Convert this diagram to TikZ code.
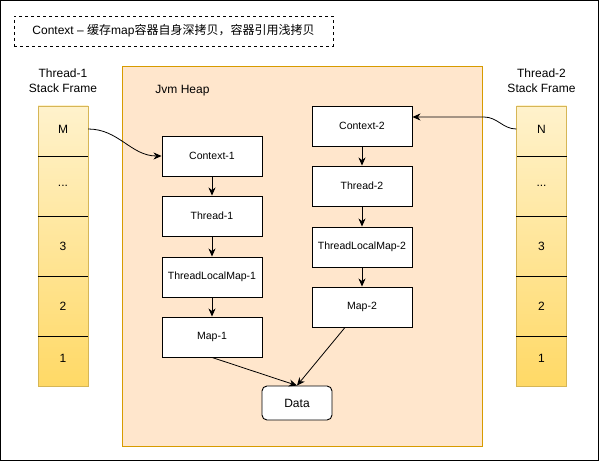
\documentclass[tikz,border=0pt]{standalone}
\usepackage{fontspec}
\setmainfont{Liberation Sans}
\newfontfamily\cjk{Noto Sans CJK SC}
\usetikzlibrary{arrows.meta}
\definecolor{stacktop}{HTML}{FFF2CC}
\definecolor{stackbot}{HTML}{FFD966}
\definecolor{stackline}{HTML}{D6B656}
\definecolor{heapfill}{HTML}{FFE6CC}
\definecolor{heapline}{HTML}{D79B00}
\tikzset{
  objbox/.style={draw,line width=0.9pt,fill=white,minimum width=100pt,minimum height=40pt,inner sep=0pt,font=\fontsize{10.5}{12}\selectfont},
  cell/.style={minimum width=50pt,inner sep=0pt,font=\fontsize{12}{14}\selectfont},
  lbl/.style={align=center,font=\fontsize{12}{15}\selectfont},
  ref/.style={line width=0.8pt,-{Stealth[length=8pt,width=7pt,inset=2.5pt]}}
}
\begin{document}
\begin{tikzpicture}[x=1pt,y=-1pt]
    \useasboundingbox (0,0) rectangle (600,462);
    \draw[line width=1pt] (0.5,0.5) rectangle (598.5,460.5);
    \node[draw,dashed,line width=0.8pt,minimum width=319pt,minimum height=30pt,font=\fontsize{12}{14}\selectfont] (title) at (173.5,31)
      {Context – {\cjk 缓存}map{\cjk 容器自身深拷贝，容器引用浅拷贝}};
    % heap
    \node[draw=heapline,fill=heapfill,line width=0.9pt,minimum width=360pt,minimum height=380pt] (heap) at (302,256) {};
    \node[lbl] (heaplbl) at (182.5,91) {Jvm Heap};
    % stack frames
    \node[lbl] (t1lbl) at (63,81) {Thread-1\\Stack Frame};
    \node[lbl] (t2lbl) at (541.5,81) {Thread-2\\Stack Frame};
    \shade[top color=stacktop,bottom color=stackbot,draw=stackline,line width=0.9pt] (38,106) rectangle (88,386);
    \shade[top color=stacktop,bottom color=stackbot,draw=stackline,line width=0.9pt] (516.5,106) rectangle (566.5,386);
    \node[cell,minimum height=50pt] (m) at (63,129) {M};
    \node[cell,minimum height=60pt] (t1dots) at (63,186) {...};
    \node[cell,minimum height=60pt] (t1c3) at (63,246) {3};
    \node[cell,minimum height=60pt] (t1c2) at (63,306) {2};
    \node[cell,minimum height=50pt] (t1c1) at (63,358) {1};
    \node[cell,minimum height=50pt] (n) at (541.5,129) {N};
    \node[cell,minimum height=60pt] (t2dots) at (541.5,186) {...};
    \node[cell,minimum height=60pt] (t2c3) at (541.5,246) {3};
    \node[cell,minimum height=60pt] (t2c2) at (541.5,306) {2};
    \node[cell,minimum height=50pt] (t2c1) at (541.5,358) {1};
    \draw[line width=0.8pt] (38,156) -- (88,156);
    \draw[line width=0.8pt] (t1dots.south west) -- (t1dots.south east);
    \draw[line width=0.8pt] (t1c3.south west) -- (t1c3.south east);
    \draw[line width=0.8pt] (t1c2.south west) -- (t1c2.south east);
    \draw[line width=0.8pt] (516.5,156) -- (566.5,156);
    \draw[line width=0.8pt] (t2dots.south west) -- (t2dots.south east);
    \draw[line width=0.8pt] (t2c3.south west) -- (t2c3.south east);
    \draw[line width=0.8pt] (t2c2.south west) -- (t2c2.south east);
    % objects
    \node[objbox] (ctx1) at (212,156) {Context-1};
    \node[objbox] (thr1) at (212,216) {Thread-1};
    \node[objbox] (tlm1) at (212,277) {ThreadLocalMap-1};
    \node[objbox] (map1) at (212,337) {Map-1};
    \node[objbox] (ctx2) at (362,126) {Context-2};
    \node[objbox] (thr2) at (362,186) {Thread-2};
    \node[objbox] (tlm2) at (362,247) {ThreadLocalMap-2};
    \node[objbox] (map2) at (362,307) {Map-2};
    \node[draw,line width=0.9pt,fill=white,rounded corners=5pt,minimum width=70pt,minimum height=34pt,font=\fontsize{12}{14}\selectfont] (data) at (297,403) {Data};
    \draw[ref] (ctx1) -- (thr1);
    \draw[ref] (thr1) -- (tlm1);
    \draw[ref] (tlm1) -- (map1);
    \draw[ref] (ctx2) -- (thr2);
    \draw[ref] (thr2) -- (tlm2);
    \draw[ref] (tlm2) -- (map2);
    \draw[ref] (map1.south) -- (data.north);
    \draw[ref] ([xshift=-17pt]map2.south) -- (data.north);
    \draw[ref] (m.east) to[out=0,in=180] (ctx1.west);
    \coordinate (nbend) at (484,117);
    \draw[ref] (n.west) to[out=180,in=0] (nbend) -- ([yshift=9pt]ctx2.east);
\end{tikzpicture}
\end{document}
